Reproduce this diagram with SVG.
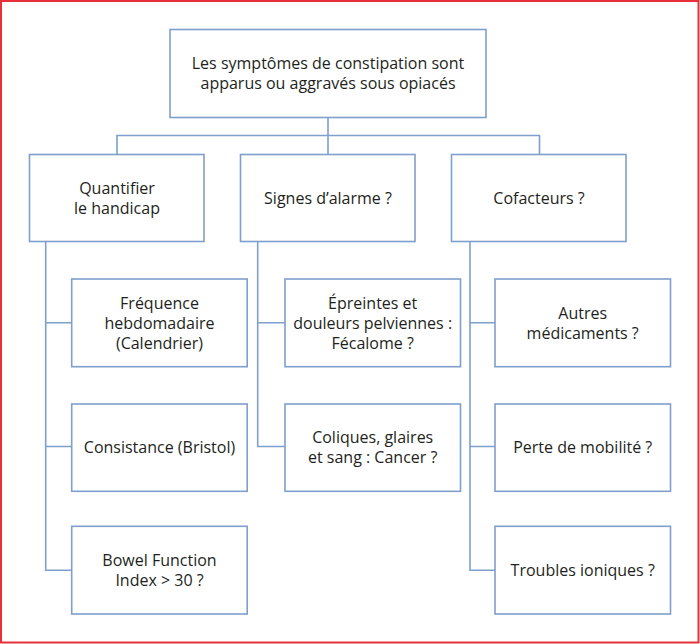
<svg xmlns="http://www.w3.org/2000/svg" width="700" height="644" viewBox="0 0 700 644">
<style>
.box{fill:#fff;stroke:#7f9fcc;stroke-width:1.6}
.ln{fill:none;stroke:#7f9fcc;stroke-width:1.6}
text{font-family:"Open Sans","Noto Sans",sans-serif;font-size:16px;fill:#231f20;text-anchor:middle}
</style>
<rect x="0" y="0" width="700" height="644" fill="#fff"/>
<rect x="1" y="1" width="697.5" height="641.5" fill="none" stroke="#e8303a" stroke-width="2"/>
<g id="connectors">
<path class="ln" d="M328,117.5V154.5M117,154.5V135.5H539.5V154.5"/>
<path class="ln" d="M45.7,241.5V570.3H71.7M45.7,322.7H71.7M45.7,446.5H71.7"/>
<path class="ln" d="M257.7,241.5V446.5H285M257.7,322.7H285"/>
<path class="ln" d="M470,241.5V570.3H495M470,322.7H495M470,446.5H495"/>
</g>
<g id="root"><rect class="box" x="170" y="29.5" width="316" height="88"/><text x="328" y="69">Les symptômes de constipation sont</text><text x="328" y="89">apparus ou aggravés sous opiacés</text></g>
<g id="quantifier"><rect class="box" x="29.5" y="154.5" width="174.5" height="87"/><text x="117" y="194">Quantifier</text><text x="117" y="214">le handicap</text></g>
<g id="signes"><rect class="box" x="240.5" y="154.5" width="174.5" height="87"/><text x="328" y="204">Signes d’alarme ?</text></g>
<g id="cofacteurs"><rect class="box" x="451.5" y="154.5" width="174.5" height="87"/><text x="539" y="204">Cofacteurs ?</text></g>
<g id="frequence"><rect class="box" x="71.7" y="279" width="175.5" height="87.7"/><text x="159.5" y="309">Fréquence</text><text x="159.5" y="329">hebdomadaire</text><text x="159.5" y="349">(Calendrier)</text></g>
<g id="consistance"><rect class="box" x="71.7" y="404" width="175.5" height="87.3"/><text x="159.5" y="453">Consistance (Bristol)</text></g>
<g id="bowel"><rect class="box" x="71.7" y="526.3" width="175.5" height="87.7"/><text x="159.5" y="566">Bowel Function</text><text x="159.5" y="586">Index &gt; 30 ?</text></g>
<g id="epreintes"><rect class="box" x="285" y="279" width="175.5" height="87.7"/><text x="372.7" y="309">Épreintes et</text><text x="372.7" y="329">douleurs pelviennes :</text><text x="372.7" y="349">Fécalome ?</text></g>
<g id="coliques"><rect class="box" x="285" y="404" width="175.5" height="87.3"/><text x="372.7" y="443">Coliques, glaires</text><text x="372.7" y="463">et sang : Cancer ?</text></g>
<g id="autres"><rect class="box" x="495" y="279" width="175.5" height="87.7"/><text x="582.7" y="319">Autres</text><text x="582.7" y="339">médicaments ?</text></g>
<g id="perte"><rect class="box" x="495" y="404" width="175.5" height="87.3"/><text x="582.7" y="453">Perte de mobilité ?</text></g>
<g id="troubles"><rect class="box" x="495" y="526.3" width="175.5" height="87.7"/><text x="582.7" y="576">Troubles ioniques ?</text></g>
</svg>
